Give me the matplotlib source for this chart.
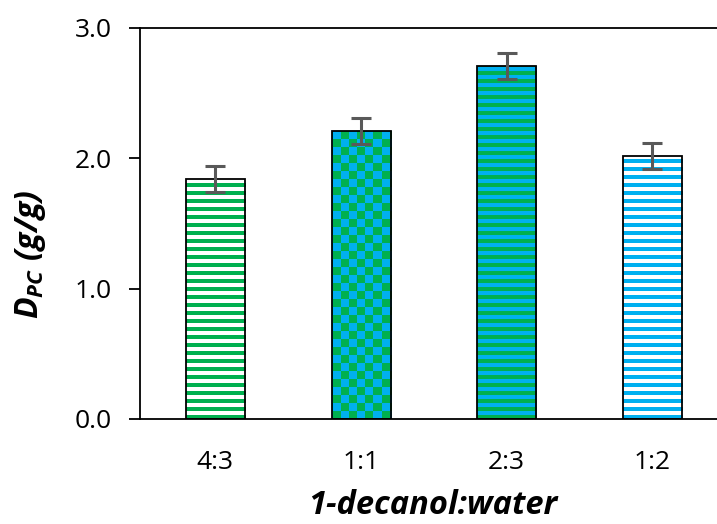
import numpy as np
import matplotlib.pyplot as plt
from matplotlib.colors import ListedColormap

categories = ['4:3', '1:1', '2:3', '1:2']
values = [1.84, 2.21, 2.71, 2.02]
errors = [0.10, 0.10, 0.10, 0.10]

green = '#00B050'
blue = '#00B0F0'

plt.rcParams.update({
    'font.family': 'Open Sans',
    'font.size': 19,
    'mathtext.fontset': 'custom',
    'mathtext.it': 'Open Sans:bold:italic',
    'mathtext.rm': 'Open Sans:bold:italic',
    'mathtext.bf': 'Open Sans:bold:italic',
})

fig = plt.figure(figsize=(7.17, 5.24), dpi=100)
ax = fig.add_axes([0.195, 0.2004, 0.805, 0.7462])

x = np.arange(len(categories))
width = 0.405

xlim = (-0.518, 3.443)
ax.set_xlim(*xlim)
ax.set_ylim(0, 3.0)

# fill patterns (about 8 px period over the plot area)
rows, cols = np.indices((98, 144))
stripes = rows % 2
check = (rows // 2 + cols // 2) % 2
patterns = [(stripes, ['white', green]),
            (check, [green, blue]),
            (stripes, [blue, green]),
            (stripes, ['white', blue])]

for xi, v, (pat, cl) in zip(x, values, patterns):
    b = ax.bar(xi, v, width, color='white', linewidth=0, zorder=2)[0]
    im = ax.imshow(pat, cmap=ListedColormap(cl), extent=(xlim[0], xlim[1], 0, 3.0),
                   aspect='auto', interpolation='nearest', zorder=2.5)
    im.set_clip_path(b)
    ax.bar(xi, v, width, fill=False, edgecolor='black', linewidth=1.3, zorder=3)

ax.errorbar(x, values, yerr=errors, fmt='none', ecolor='#595959',
            elinewidth=2.2, capsize=7, capthick=2.2, zorder=4)

ax.set_xticks(x)
ax.set_xticklabels(categories)
ax.tick_params(axis='x', length=0, pad=22)
ax.set_yticks([0, 1, 2, 3])
ax.set_yticklabels(['0.0', '1.0', '2.0', '3.0'])
ax.tick_params(axis='y', length=8, width=1.3, direction='out', pad=12)

for s in ['left', 'bottom', 'top']:
    ax.spines[s].set_linewidth(1.3)
ax.spines['right'].set_visible(False)

ax.set_xlabel('1-decanol:water', fontsize=23.5, fontweight='bold', style='italic', va='center')
ax.xaxis.set_label_coords(0.508, -0.22)
ax.set_ylabel(r'$D_{PC}\ (g/g)$', fontsize=23, va='center')
ax.yaxis.set_label_coords(-0.19, 0.422)

fig.savefig('out.png', dpi=100)
